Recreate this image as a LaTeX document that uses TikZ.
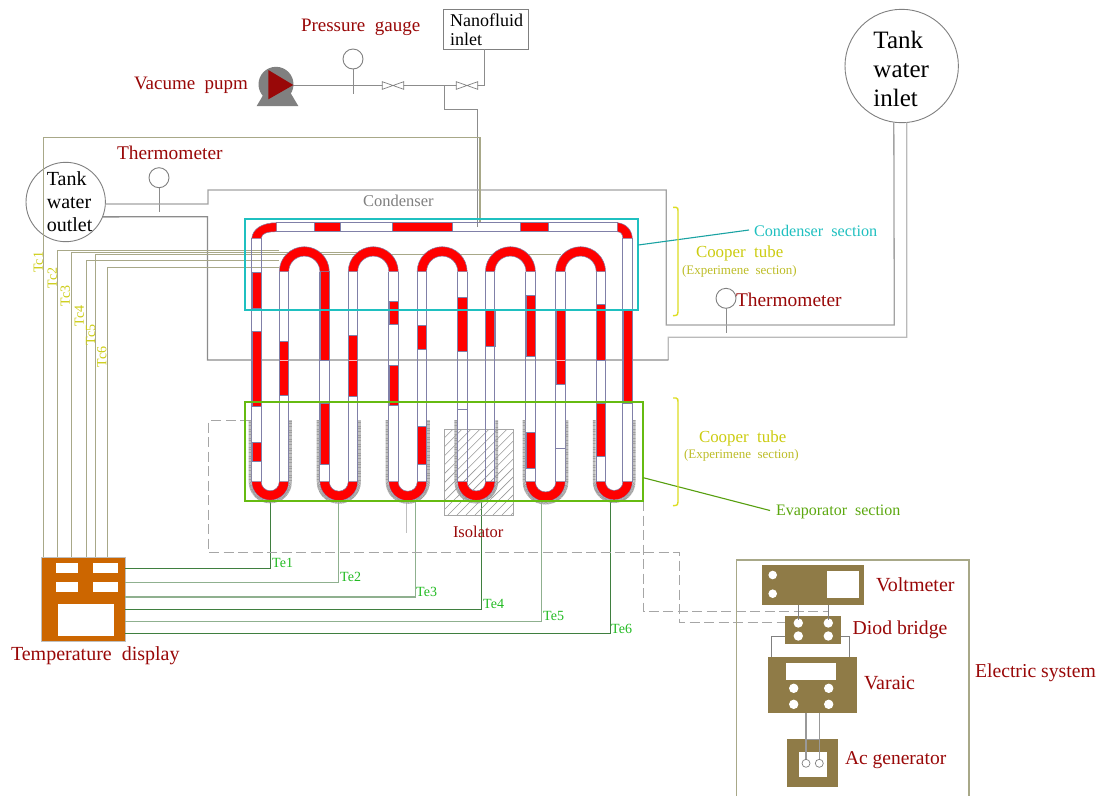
\documentclass[tikz,border=0pt]{standalone}
\usepackage{fontspec}
\setmainfont{Liberation Serif}
\newcommand{\fsz}[1]{\fontsize{#1}{#1}\selectfont}
\definecolor{dred}{HTML}{990808}
\definecolor{wall}{HTML}{8080A8}
\definecolor{pipeg}{HTML}{8C8C8C}
\definecolor{tcline}{HTML}{A8A888}
\definecolor{teline}{HTML}{3F7F3F}
\definecolor{telight}{HTML}{8FB08F}
\definecolor{brass}{HTML}{8F7B47}
\definecolor{orng}{HTML}{CC6600}
\definecolor{cyanb}{HTML}{1FC0C0}
\definecolor{greenb}{HTML}{66BB11}
\definecolor{yel}{HTML}{DDDD22}
\definecolor{tcy}{HTML}{CCCC11}
\definecolor{teg}{HTML}{22BB22}
\tikzset{
  x=1pt,y=-1pt,
  lbl/.style={inner sep=0pt,outer sep=0pt,anchor=west,text=dred,font=\fsz{19.4},yshift=-1.5pt},
  pipe/.style={draw=pipeg,line width=0.9pt},
  wpipe/.style={draw=pipeg!80,line width=1.3pt},
  tc/.style={draw=tcline,line width=1pt},
  te/.style={draw=teline,line width=0.9pt},
  tel/.style={draw=telight,line width=1.3pt},
  telbl/.style={inner sep=0pt,anchor=west,text=teg,font=\fsz{14},yshift=-0.5pt},
  tclbl/.style={inner sep=0pt,rotate=90,text=tcy,font=\fsz{14}},
  gauge/.style={circle,draw=gray,line width=0.9pt,fill=white,minimum size=20pt,inner sep=0pt,outer sep=0pt},
  tank/.style={circle,draw=gray,line width=0.9pt,fill=white,inner sep=0pt,outer sep=0pt},
  valveb/.style={draw=gray,fill=white,line width=0.7pt},
  walls/.style={draw=wall,line width=0.9pt},
  seg/.style={fill=red,draw=wall,line width=0.5pt},
  brassbox/.style={fill=brass,draw=none},
  dashp/.style={draw=gray!70,line width=1.3pt,dash pattern=on 10pt off 4.5pt},
  jacket/.style={draw=gray!75,line width=2.8pt,dash pattern=on 0.5pt off 0.4pt},
  brk/.style={draw=yel,line width=1.4pt},
}
\begin{document}
\begin{tikzpicture}
\useasboundingbox (0,0) rectangle (1098,796);
\fill[white] (0,0) rectangle (1098,796);

% ---- equipment nodes
\node[tank,minimum size=113.4pt] (tankin) at (901.7,66) {};
\node[inner sep=0pt,align=left,font=\fontsize{25}{29}\selectfont,text=black] (tankintxt) at (901.2,68.5) {Tank\\water\\inlet};
\node[tank,minimum size=79.4pt] (tankout) at (65.7,202) {};
\node[inner sep=0pt,align=left,font=\fontsize{20}{23}\selectfont,text=black] (tankouttxt) at (69.6,201.5) {Tank\\water\\outlet};
\node[draw=gray,line width=0.9pt,fill=white,inner sep=0pt,outer sep=0pt,minimum width=85pt,minimum height=40pt] (nano) at (486.2,29.3) {};
\node[inner sep=0pt,anchor=west,align=left,font=\fontsize{18}{19.5}\selectfont,text=black] (nanotxt) at (450,29.5) {Nanofluid\\inlet};
\node[gauge] (press) at (353,59) {};
\node[gauge] (therm1) at (159,177.7) {};
\node[gauge] (therm2) at (726,298.3) {};
\node[rectangle,fill=orng,draw=gray!50,line width=0.5pt,inner sep=0pt,outer sep=0pt,minimum width=83.7pt,minimum height=83.7pt] (disp) at (83.5,599.2) {};

% ---- stems
\draw[pipe] (press.south) -- (353,94);
\draw[pipe] (therm1.south) -- (159,212.3);
\draw[pipe] (therm2.south) -- (726,333);

% ---- vacuum line
\coordinate (pumpout) at (293,85);
\coordinate (branch) at (444.3,85);
\coordinate (hdr) at (477.3,226.7);
\draw[pipe] (pumpout) -- (484.7,85) -- (484.7,49.3);
\draw[pipe] (branch) -- (444.3,109.3) -- (477.3,109.3) -- (hdr);
\draw[valveb] (382.3,81.7) -- (403.7,89.3) -- (403.7,81.7) -- (382.3,89.3) -- cycle;
\draw[valveb] (456.3,81.7) -- (477.7,89.3) -- (477.7,81.7) -- (456.3,89.3) -- cycle;

% ---- pump
\fill[gray] (256.7,106) -- (298.3,106) -- (290,92) -- (265,92) -- cycle;
\node[circle,fill=gray,minimum size=35pt,inner sep=0pt] (pump) at (276,84.3) {};
\fill[dred] (268.3,70) -- (268.3,99.3) -- (293.3,85) -- cycle;

% ---- water loop
\draw[wpipe] (tankin.262.5) -- (894.3,325) -- (666.3,325) -- (666.3,190) -- (208,190) -- (208,204) -- (tankout.-3);
\draw[wpipe,draw=pipeg!60] (tankin.-85) -- (906.7,337.3) -- (668.3,337.3) -- (668.3,360);
\draw[wpipe,draw=pipeg] (668.3,360) -- (207.5,360) -- (207.5,216.7) -- (tankout.-22);

% ---- thermocouple lines (condenser)
\draw[tc,line width=1.3pt] (43.7,557.3) -- (43.7,137.7) -- (480,137.7) -- (480,222.7);
\draw[tc] (57.3,557.3) -- (57.3,250.7) -- (279,250.7);
\draw[tc] (71.3,557.3) -- (71.3,252) -- (360,252);
\draw[tc] (86,557.3) -- (86,260.7) -- (279,260.7);
\draw[tc] (95,557.3) -- (95,254) -- (561,254);
\draw[tc] (107.3,557.3) -- (107.3,267.3) -- (279,267.3);

% ---- thermocouple lines (evaporator)
\draw[te]  (125.3,568.3) -- (270.2,568.3) -- (270.2,500);
\draw[tel] (125.3,582.7) -- (338.8,582.7) -- (338.8,500);
\draw[tel] (125.3,597) -- (415.5,597) -- (415.5,500);
\draw[te]  (125.3,609) -- (481.2,609) -- (481.2,500);
\draw[tel] (125.3,621.7) -- (541.6,621.7) -- (541.6,500);
\draw[te]  (125.3,633.3) -- (610.6,633.3) -- (610.6,500);
\draw[draw=gray!50,line width=1.3pt] (406.7,500) -- (406.7,533.3);

% ---- heater wiring
\draw[dashp] (250,420.7) -- (208.3,420.7) -- (208.3,552.3) -- (679.3,552.3) -- (679.3,622.7) -- (785,622.7);
\draw[dashp] (643.5,501) -- (643.5,611.7) -- (828.3,611.7);

% ---- isolator
\begin{scope}
\clip (444.3,429.3) rectangle (513,515);
\foreach \k in {0,...,18} \draw[gray!80,line width=0.6pt] ({358+9*\k},515) -- ({358+9*\k+86},429.3);
\end{scope}
\draw[gray!70,line width=0.9pt] (444.3,429.3) rectangle (513,515);

% ---- tube red fill, legs
\foreach \c/\a/\b in {
 256.5/272.7/308.3, 256.5/331.7/406.7, 256.5/442.7/461.7,
 284/341.7/395,
 324.6/271.7/360, 324.6/403.3/464,
 353/335/396,
 393.5/301/324.7, 393.5/365.5/405.3,
 422/325/349.7, 422/426/464,
 462.3/297/351.7,
 490.2/310/346,
 530.6/295/356.7, 530.6/432.7/468.3,
 560.5/310/384.3,
 600.7/304/360, 600.7/403/456,
 627.6/310/403.3}
  {\path[seg] ({\c-4.7},\a) rectangle ({\c+4.7},\b);}
% pale crossings of the cold-water pipe
\foreach \c in {284,353,560.5}
  {\draw[red!30!white,line width=0.9pt] ({\c-4.2},360) -- ({\c+4.2},360);}
% marks
\draw[walls] (457.6,409.3) -- (467,409.3);
\draw[walls] (555.8,448.3) -- (565.2,448.3);
% walls
\foreach \c/\t in {256.5/238.3, 284/271.7, 324.6/271.7, 353/271.7, 393.5/271.7, 422/271.7, 462.3/271.7, 490.2/271.7, 530.6/271.7, 560.5/271.7, 600.7/271.7, 627.6/238.3}
  {\draw[walls] ({\c-4.7},\t) -- ({\c-4.7},481.7);
   \draw[walls] ({\c+4.7},\t) -- ({\c+4.7},481.7);}

% ---- top return bends
\foreach \cx in {304.3,373.25,442.15,510.4,580.6}
  {\path[seg] ({\cx-25},271.7) arc[start angle=180,end angle=0,radius=25pt]
     -- ({\cx+15.6},271.7) arc[start angle=0,end angle=180,radius=15.6pt] -- cycle;}

% ---- bottom return bends and jackets
\foreach \l/\r in {256.5/284, 324.6/353, 393.5/422, 462.3/490.2, 530.6/560.5, 600.7/627.6}
  {\pgfmathsetmacro{\cx}{(\l+\r)/2}
   \pgfmathsetmacro{\ro}{(\r-\l)/2+4.7}
   \pgfmathsetmacro{\ri}{(\r-\l)/2-4.7}
   \pgfmathsetmacro{\rj}{\ro+1.8}
   \draw[jacket] ({\cx-\rj},420) -- ({\cx-\rj},481.7) arc[start angle=180,end angle=360,radius=\rj pt] -- ({\cx+\rj},420);
   \path[seg] ({\cx-\ro},481.7) arc[start angle=180,end angle=360,radius=\ro pt]
     -- ({\cx+\ri},481.7) arc[start angle=360,end angle=180,radius=\ri pt] -- cycle;}

% ---- top header
\draw[walls] (276,222.7) -- (618,222.7);
\draw[walls] (267,231.7) -- (618,231.7);
\foreach \a/\b in {314.7/340, 392.7/452.7, 520/548.3}
  {\path[seg] (\a,222.7) rectangle (\b,231.7);}
\path[seg] (251.8,238.3) .. controls (252.5,229) and (262,222.7) .. (276.7,222.7) -- (276.7,231.7)
   .. controls (268,231.7) and (261.5,233) .. (261.2,238.3) -- cycle;
\path[seg] (617.3,222.7) .. controls (626,223.5) and (632,230) .. (632.3,238.3) -- (622.9,238.3)
   .. controls (622.5,234) and (621,232) .. (617.3,231.7) -- cycle;

% ---- section frames
\draw[cyanb,line width=1.9pt] (245,219) rectangle (638.3,310);
\draw[greenb,line width=2pt] (244.7,402.3) rectangle (643.3,500.7);
\coordinate (condtip) at (749,230);
\coordinate (evaptip) at (770,510.5);
\draw[cyanb!85!black,line width=1.1pt] (638.3,245) -- (condtip);
\draw[greenb!85!black,line width=1.1pt] (643.3,477.7) -- (evaptip);

% ---- brackets
\draw[brk] (673,207.3) -- (676,207.3) .. controls (678,207.3) and (678,209) .. (678,211) -- (678,312) .. controls (678,314) and (678,315.7) .. (673,315.7);
\draw[brk] (673,398) -- (676,398) .. controls (678,398) and (678,400) .. (678,402) -- (678,502) .. controls (678,504) and (678,505.7) .. (673,505.7);

% ---- display windows
\foreach \a/\b/\cc/\d in {56.3/563.3/78.4/572.7, 92.7/563.3/118/572.7, 56.3/582.3/78.4/591.7, 92.7/582.3/118/591.7, 58/604.3/113.9/636}
  {\fill[white] (\a,\b) rectangle (\cc,\d);}

% ---- electric system
\draw[draw=tcline,line width=1.1pt] (736.7,796) -- (736.7,560) -- (969,560) -- (969,796);
\node[brassbox,inner sep=0pt,minimum width=101.7pt,minimum height=40pt] (volt) at (813.2,585) {};
\node[brassbox,inner sep=0pt,minimum width=55.7pt,minimum height=28.3pt] (diod) at (812.85,629.85) {};
\node[brassbox,inner sep=0pt,minimum width=89pt,minimum height=56pt] (varaic) at (812.8,684.7) {};
\node[brassbox,inner sep=0pt,minimum width=50.7pt,minimum height=47.4pt] (acgen) at (812.35,763) {};
\fill[white] (826.7,571) rectangle (859.3,598.3);
\fill[white] (786,663.3) rectangle (835.7,680);
\fill[white] (799.3,752.3) rectangle (826.7,776.7);
\foreach \x/\y/\r in {772.7/575/4.3, 772.7/593.7/4.3, 798.3/623/4.7, 828.3/623/4.7, 798.3/636/4.7, 828.3/636/4.7, 793.7/688.3/4.7, 828.7/688.3/4.7, 793.7/704.3/4.7, 828.7/704.3/4.7}
  {\fill[white] (\x,\y) circle[radius=\r pt];}
\draw[gray,line width=1pt] (798.3,605) -- (798.3,620);
\draw[gray,line width=1pt] (828.3,605) -- (828.3,620);
\draw[gray,line width=1pt] (diod.west |- 0,636) -- (771.7,636) -- (771.7,656.7);
\draw[gray,line width=1pt] (diod.east |- 0,636) -- (849,636) -- (849,656.7);
\draw[gray!80,line width=1.3pt] (806,712.7) -- (806,758.5);
\draw[gray!80,line width=1.3pt] (819.3,712.7) -- (819.3,758.5);
\draw[gray!80,line width=1.3pt] (806,739.3) -- (819.3,739.3);
\draw[gray,line width=0.7pt] (806,763.3) circle[radius=4pt];
\draw[gray,line width=0.7pt] (819.3,763.3) circle[radius=4pt];

% ---- labels
\node[lbl,font=\fsz{19}] (lpg) at (301,26) {Pressure~~gauge};
\node[lbl,font=\fsz{19}] (lvp) at (134,84) {Vacume~~pupm};
\node[lbl] (lth1) at (117,151) {Thermometer};
\node[lbl] (lth2) at (736,298) {Thermometer};
\node[lbl,font=\fsz{16.5},text=gray] (lcond) at (363,199) {Condenser};
\node[lbl,font=\fsz{16.2},text=cyanb] (lcs) at (754,229) {Condenser~~section};
\node[lbl,font=\fsz{16},text=greenb!90!black] (les) at (776,510) {Evaporator~~section};
\node[lbl,font=\fsz{16.9},text=tcy] (lcu1) at (696,252) {Cooper~~tube};
\node[lbl,font=\fsz{13},text=tcy!80!gray] (lex1) at (682,270) {(Experimene~~section)};
\node[lbl,font=\fsz{16.9},text=tcy] (lcu2) at (699,437) {Cooper~~tube};
\node[lbl,font=\fsz{13},text=tcy!80!gray] (lex2) at (684,454) {(Experimene~~section)};
\node[lbl,font=\fsz{16.5}] (liso) at (453,530) {Isolator};
\node[lbl,font=\fsz{20}] (ltd) at (11,654) {Temperature~~display};
\node[lbl,font=\fsz{20}] (lvm) at (876,583) {Voltmeter};
\node[lbl,font=\fsz{19.7}] (ldb) at (852.7,628) {Diod~bridge};
\node[lbl,font=\fsz{20}] (lva) at (864,681.7) {Varaic};
\node[lbl,font=\fsz{19.5}] (lac) at (845,759) {Ac~generator};
\node[lbl,font=\fsz{19.7}] (les2) at (975,671.7) {Electric~system};
\node[telbl] (lte1) at (272,562) {Te1};
\node[telbl] (lte2) at (340,576) {Te2};
\node[telbl] (lte3) at (416,591) {Te3};
\node[telbl] (lte4) at (483,603) {Te4};
\node[telbl] (lte5) at (543,615) {Te5};
\node[telbl] (lte6) at (611,628) {Te6};
\node[tclbl] (ltc1) at (38.3,262.3) {Tc1};
\node[tclbl] (ltc2) at (52.3,278) {Tc2};
\node[tclbl] (ltc3) at (65.3,296) {Tc3};
\node[tclbl] (ltc4) at (79.3,316) {Tc4};
\node[tclbl] (ltc5) at (90.7,335) {Tc5};
\node[tclbl] (ltc6) at (101.7,356.7) {Tc6};
\end{tikzpicture}
\end{document}
